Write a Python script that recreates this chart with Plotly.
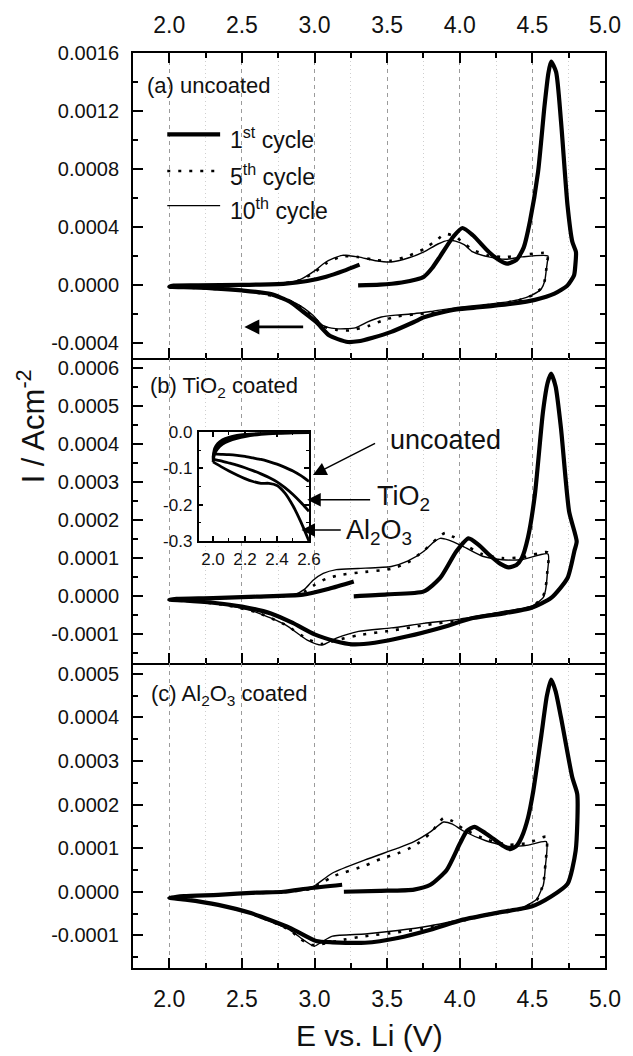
import plotly.graph_objects as go

FONT = "Liberation Sans, Arial, Helvetica, sans-serif"

# ---------------- shared potential axis (V vs Li) ----------------
x_major = [2.0, 2.5, 3.0, 3.5, 4.0, 4.5, 5.0]
x_major_text = ["2.0", "2.5", "3.0", "3.5", "4.0", "4.5", "5.0"]
x_minor = [2.25, 2.75, 3.25, 3.75, 4.25, 4.75]

# ---------------- (a) uncoated ----------------
a_y_ticks = [-0.0004, 0.0, 0.0004, 0.0008, 0.0012, 0.0016]
a_y_text = ["-0.0004", "0.0000", "0.0004", "0.0008", "0.0012", "0.0016"]
a_y_minor = [-0.0002, 0.0002, 0.0006, 0.0010, 0.0014]

a_c1_v = [3.30, 3.45, 3.60, 3.70, 3.753, 3.81, 3.865, 3.955, 4.018, 4.09, 4.20, 4.27, 4.326,
          4.39, 4.44, 4.483, 4.539, 4.584, 4.61, 4.629, 4.663, 4.697, 4.742, 4.775, 4.80,
          4.795, 4.787, 4.742, 4.652, 4.517, 4.36, 4.157, 3.977, 3.86, 3.753, 3.685, 3.528,
          3.40, 3.30, 3.23, 3.16, 3.10, 3.011, 2.92, 2.83, 2.70, 2.50, 2.30, 2.10, 2.0,
          2.03, 2.2, 2.5, 2.8, 2.95, 3.08, 3.2, 3.31]
a_c1_i = [0.0, 0.5e-5, 2.0e-5, 4.0e-5, 6.0e-5, 1.2e-4, 2.0e-4, 3.35e-4, 3.95e-4, 3.45e-4, 2.3e-4, 1.75e-4, 1.5e-4,
          1.75e-4, 2.6e-4, 4.4e-4, 7.8e-4, 12.4e-4, 14.6e-4, 15.4e-4, 14.7e-4, 11.3e-4, 5.5e-4, 3.0e-4, 2.3e-4,
          1.3e-4, 0.7e-4, 0.0, -0.57e-4, -1.0e-4, -1.26e-4, -1.49e-4, -1.65e-4, -1.9e-4, -2.2e-4, -2.52e-4, -3.2e-4,
          -3.6e-4, -3.85e-4, -3.9e-4, -3.7e-4, -3.44e-4, -2.52e-4, -1.8e-4, -1.12e-4, -0.6e-4, -0.35e-4, -0.2e-4, -0.12e-4, -0.1e-4,
          -0.02e-4, 0.0, 0.03e-4, 0.12e-4, 0.3e-4, 0.6e-4, 1.0e-4, 1.43e-4]

a_c5_v = [2.0, 2.2, 2.5, 2.75, 2.9, 3.0, 3.078, 3.19, 3.3, 3.42, 3.528, 3.65, 3.753, 3.85, 3.899,
          3.96, 4.03, 4.09, 4.2, 4.314, 4.427, 4.607, 4.603, 4.595, 4.585, 4.562, 4.494, 4.4, 4.2,
          4.0, 3.8, 3.685, 3.56, 3.46, 3.37, 3.24, 3.146, 3.056, 2.989, 2.876, 2.75, 2.6, 2.4, 2.2, 2.0]
a_c5_i = [-0.1e-4, 0.0, 0.03e-4, 0.1e-4, 0.35e-4, 0.9e-4, 1.5e-4, 2.0e-4, 1.95e-4, 1.75e-4, 1.7e-4, 2.05e-4, 2.5e-4, 3.2e-4, 3.55e-4,
          3.4e-4, 2.9e-4, 2.45e-4, 2.05e-4, 1.95e-4, 2.1e-4, 2.2e-4, 1.7e-4, 1.05e-4, 0.35e-4, -0.2e-4, -0.7e-4, -1.05e-4, -1.35e-4,
          -1.6e-4, -1.9e-4, -2.0e-4, -2.15e-4, -2.45e-4, -2.8e-4, -3.1e-4, -3.05e-4, -2.8e-4, -2.15e-4, -1.3e-4, -0.82e-4, -0.5e-4, -0.3e-4, -0.18e-4, -0.1e-4]

a_c10_v = [2.0, 2.2, 2.5, 2.75, 2.9, 3.0, 3.078, 3.19, 3.3, 3.42, 3.528, 3.65, 3.753, 3.85, 3.92,
           3.97, 4.03, 4.09, 4.2, 4.314, 4.427, 4.607, 4.603, 4.595, 4.585, 4.562, 4.494, 4.4, 4.2,
           4.0, 3.8, 3.685, 3.56, 3.46, 3.37, 3.28, 3.146, 3.056, 2.989, 2.876, 2.75, 2.6, 2.4, 2.2, 2.0]
a_c10_i = [-0.1e-4, 0.0, 0.03e-4, 0.1e-4, 0.4e-4, 1.0e-4, 1.61e-4, 2.07e-4, 1.96e-4, 1.7e-4, 1.61e-4, 1.9e-4, 2.3e-4, 2.85e-4, 3.1e-4,
           3.05e-4, 2.8e-4, 2.3e-4, 1.96e-4, 1.8e-4, 1.96e-4, 2.02e-4, 1.6e-4, 1.0e-4, 0.3e-4, -0.23e-4, -0.68e-4, -1.0e-4, -1.3e-4,
           -1.5e-4, -1.8e-4, -1.95e-4, -2.05e-4, -2.18e-4, -2.5e-4, -2.93e-4, -2.98e-4, -2.75e-4, -2.06e-4, -1.26e-4, -0.8e-4, -0.5e-4, -0.3e-4, -0.18e-4, -0.1e-4]

# ---------------- (b) TiO2 coated ----------------
b_y_ticks = [-0.0001, 0.0, 0.0001, 0.0002, 0.0003, 0.0004, 0.0005, 0.0006]
b_y_text = ["-0.0001", "0.0000", "0.0001", "0.0002", "0.0003", "0.0004", "0.0005", "0.0006"]
b_y_minor = [-0.00015, -0.00005, 0.00005, 0.00015, 0.00025, 0.00035, 0.00045, 0.00055]

b_c1_v = [3.27, 3.5, 3.753, 3.865, 3.977, 4.06, 4.13, 4.202, 4.28, 4.337, 4.39, 4.427, 4.47, 4.517,
          4.573, 4.605, 4.629, 4.66, 4.697, 4.753, 4.805, 4.79, 4.742, 4.629, 4.494, 4.314, 4.09,
          3.865, 3.64, 3.415, 3.258, 3.146, 3.0, 2.85, 2.7, 2.5, 2.3, 2.1, 2.0,
          2.05, 2.3, 2.6, 2.92, 3.1, 3.27]
b_c1_i = [0.0, 0.05e-4, 0.13e-4, 0.48e-4, 1.18e-4, 1.52e-4, 1.35e-4, 1.09e-4, 0.85e-4, 0.76e-4, 0.82e-4, 1.0e-4, 1.55e-4, 2.66e-4,
          4.84e-4, 5.6e-4, 5.84e-4, 5.5e-4, 4.4e-4, 2.22e-4, 1.44e-4, 1.2e-4, 0.48e-4, -0.044e-4, -0.3e-4, -0.44e-4, -0.57e-4,
          -0.83e-4, -1.05e-4, -1.22e-4, -1.26e-4, -1.18e-4, -1.0e-4, -0.7e-4, -0.45e-4, -0.27e-4, -0.17e-4, -0.11e-4, -0.09e-4,
          -0.07e-4, -0.05e-4, -0.01e-4, 0.044e-4, 0.2e-4, 0.39e-4]

b_c5_v = [2.0, 2.4, 2.75, 2.86, 2.93, 3.0, 3.08, 3.18, 3.3, 3.528, 3.64, 3.753, 3.84, 3.899, 3.96, 4.022,
          4.157, 4.292, 4.427, 4.607, 4.603, 4.59, 4.573, 4.5, 4.3, 4.0, 3.753, 3.528, 3.303, 3.15,
          3.05, 2.95, 2.8, 2.6, 2.4, 2.2, 2.0]
b_c5_i = [-0.09e-4, -0.04e-4, 0.0, 0.03e-4, 0.12e-4, 0.3e-4, 0.46e-4, 0.56e-4, 0.62e-4, 0.72e-4, 0.88e-4, 1.2e-4, 1.5e-4, 1.66e-4, 1.55e-4, 1.38e-4,
          1.1e-4, 1.0e-4, 1.02e-4, 1.15e-4, 0.65e-4, 0.2e-4, 0.0, -0.27e-4, -0.42e-4, -0.63e-4, -0.76e-4, -0.9e-4, -1.02e-4, -1.15e-4,
          -1.25e-4, -1.12e-4, -0.75e-4, -0.42e-4, -0.24e-4, -0.14e-4, -0.09e-4]

b_c10_v = [2.0, 2.4, 2.75, 2.86, 2.93, 2.99, 3.06, 3.15, 3.3, 3.528, 3.64, 3.753, 3.82, 3.865, 3.92,
           4.022, 4.157, 4.292, 4.427, 4.607, 4.603, 4.59, 4.573, 4.5, 4.3, 4.0, 3.753, 3.528, 3.303,
           3.15, 3.05, 2.95, 2.8, 2.6, 2.4, 2.2, 2.0]
b_c10_i = [-0.09e-4, -0.04e-4, 0.0, 0.04e-4, 0.18e-4, 0.42e-4, 0.6e-4, 0.7e-4, 0.73e-4, 0.78e-4, 0.92e-4, 1.18e-4, 1.42e-4, 1.52e-4, 1.48e-4,
           1.31e-4, 1.05e-4, 0.96e-4, 0.96e-4, 1.11e-4, 0.6e-4, 0.15e-4, -0.044e-4, -0.25e-4, -0.4e-4, -0.6e-4, -0.71e-4, -0.83e-4, -0.92e-4,
           -1.1e-4, -1.28e-4, -1.15e-4, -0.75e-4, -0.42e-4, -0.24e-4, -0.14e-4, -0.09e-4]

# ---------------- (c) Al2O3 coated ----------------
c_y_ticks = [-0.0001, 0.0, 0.0001, 0.0002, 0.0003, 0.0004, 0.0005]
c_y_text = ["-0.0001", "0.0000", "0.0001", "0.0002", "0.0003", "0.0004", "0.0005"]
c_y_minor = [-0.00015, -0.00005, 0.00005, 0.00015, 0.00025, 0.00035, 0.00045]

c_c1_v = [3.202, 3.45, 3.685, 3.798, 3.91, 4.0, 4.05, 4.101, 4.16, 4.225, 4.3, 4.348, 4.39, 4.427,
          4.47, 4.506, 4.562, 4.6, 4.629, 4.66, 4.697, 4.775, 4.809, 4.798, 4.742, 4.629, 4.494,
          4.247, 4.022, 3.798, 3.573, 3.348, 3.124, 3.011, 2.831, 2.561, 2.337, 2.112, 2.0,
          2.1, 2.337, 2.6, 2.786, 2.966, 3.19]
c_c1_i = [0.0, 0.02e-4, 0.05e-4, 0.16e-4, 0.5e-4, 1.1e-4, 1.4e-4, 1.49e-4, 1.38e-4, 1.23e-4, 1.05e-4, 0.98e-4, 1.05e-4, 1.26e-4,
          1.7e-4, 2.31e-4, 3.6e-4, 4.5e-4, 4.87e-4, 4.6e-4, 4.0e-4, 2.62e-4, 2.24e-4, 0.94e-4, 0.18e-4, -0.11e-4, -0.34e-4,
          -0.49e-4, -0.64e-4, -0.87e-4, -1.06e-4, -1.17e-4, -1.16e-4, -1.13e-4, -0.83e-4, -0.49e-4, -0.3e-4, -0.18e-4, -0.14e-4,
          -0.1e-4, -0.07e-4, -0.02e-4, 0.0, 0.08e-4, 0.16e-4]

c_c5_v = [2.0, 2.337, 2.786, 2.966, 3.05, 3.124, 3.348, 3.46, 3.573, 3.685, 3.8, 3.888, 3.95, 4.022,
          4.18, 4.337, 4.472, 4.596, 4.59, 4.575, 4.562, 4.528, 4.4, 4.2, 4.022, 3.798, 3.573, 3.348,
          3.2, 3.05, 2.98, 2.9, 2.831, 2.561, 2.337, 2.112, 2.0]
c_c5_i = [-0.14e-4, -0.07e-4, 0.0, 0.06e-4, 0.2e-4, 0.35e-4, 0.6e-4, 0.76e-4, 0.88e-4, 1.05e-4, 1.35e-4, 1.69e-4, 1.62e-4, 1.45e-4,
          1.2e-4, 1.08e-4, 1.12e-4, 1.26e-4, 0.65e-4, 0.18e-4, 0.05e-4, -0.2e-4, -0.42e-4, -0.53e-4, -0.66e-4, -0.82e-4, -0.93e-4, -1.02e-4,
          -1.1e-4, -1.2e-4, -1.22e-4, -1.08e-4, -0.88e-4, -0.5e-4, -0.3e-4, -0.18e-4, -0.14e-4]

c_c10_v = [2.0, 2.337, 2.786, 2.966, 3.011, 3.124, 3.348, 3.573, 3.685, 3.8, 3.888, 3.95, 4.022, 4.18,
           4.337, 4.472, 4.596, 4.59, 4.575, 4.562, 4.528, 4.4, 4.2, 4.022, 3.798, 3.573, 3.348, 3.124,
           3.05, 2.999, 2.93, 2.831, 2.561, 2.337, 2.112, 2.0]
c_c10_i = [-0.14e-4, -0.07e-4, 0.0, 0.08e-4, 0.16e-4, 0.43e-4, 0.73e-4, 1.0e-4, 1.15e-4, 1.38e-4, 1.6e-4, 1.55e-4, 1.4e-4, 1.17e-4,
           1.04e-4, 1.07e-4, 1.15e-4, 0.6e-4, 0.15e-4, 0.05e-4, -0.18e-4, -0.4e-4, -0.5e-4, -0.63e-4, -0.78e-4, -0.89e-4, -0.97e-4, -1.02e-4,
           -1.15e-4, -1.25e-4, -1.12e-4, -0.88e-4, -0.5e-4, -0.3e-4, -0.18e-4, -0.14e-4]

# ---------------- inset: low-potential end of the first cathodic scan ----------------
inset_x_ticks = [2.0, 2.2, 2.4, 2.6]
inset_x_text = ["2.0", "2.2", "2.4", "2.6"]
inset_y_ticks = [-0.3, -0.2, -0.1, 0.0]
inset_y_text = ["-0.3", "-0.2", "-0.1", "0.0"]

inset_up_v = [2.0, 2.01, 2.03, 2.06, 2.1, 2.15, 2.2, 2.3, 2.4, 2.5, 2.6]
inset_up_1 = [-0.082, -0.06, -0.045, -0.033, -0.024, -0.017, -0.012, -0.006, -0.003, -0.002, -0.001]
inset_up_2 = [-0.076, -0.052, -0.038, -0.027, -0.019, -0.013, -0.009, -0.004, -0.002, -0.001, -0.001]
inset_up_3 = [-0.07, -0.045, -0.031, -0.021, -0.014, -0.009, -0.006, -0.003, -0.001, 0.0, 0.0]

inset_dn_v = [2.0, 2.05, 2.1, 2.15, 2.2, 2.25, 2.3, 2.35, 2.4, 2.45, 2.5, 2.55, 2.6]
inset_uncoated = [-0.060, -0.061, -0.062, -0.064, -0.067, -0.071, -0.075, -0.081, -0.088, -0.097, -0.107, -0.12, -0.136]
inset_tio2 = [-0.074, -0.079, -0.085, -0.091, -0.098, -0.106, -0.115, -0.125, -0.137, -0.153, -0.172, -0.194, -0.218]
inset_al2o3 = [-0.082, -0.095, -0.107, -0.118, -0.128, -0.136, -0.141, -0.141, -0.147, -0.168, -0.203, -0.248, -0.30]

fig = go.Figure()

THICK = dict(color="black", width=4.2)
DOTTED = dict(color="black", width=2.6, dash="3px,8px")
THIN = dict(color="black", width=1.4)


def add_cycles(v1, i1, v5, i5, v10, i10, xa, ya):
    common = dict(mode="lines", showlegend=False, xaxis=xa, yaxis=ya, hoverinfo="skip")
    fig.add_trace(go.Scatter(x=v10, y=i10, line=dict(**THIN, shape="spline", smoothing=0.6), **common))
    fig.add_trace(go.Scatter(x=v5, y=i5, line=dict(**DOTTED, shape="spline", smoothing=0.6), **common))
    fig.add_trace(go.Scatter(x=v1, y=i1, line=dict(**THICK, shape="spline", smoothing=0.6), **common))


add_cycles(a_c1_v, a_c1_i, a_c5_v, a_c5_i, a_c10_v, a_c10_i, "x", "y")
add_cycles(b_c1_v, b_c1_i, b_c5_v, b_c5_i, b_c10_v, b_c10_i, "x2", "y2")
add_cycles(c_c1_v, c_c1_i, c_c5_v, c_c5_i, c_c10_v, c_c10_i, "x3", "y3")

inset_line = dict(color="black", width=2.8, shape="spline", smoothing=0.6)
for ys in (inset_up_1, inset_up_2, inset_up_3):
    fig.add_trace(go.Scatter(x=inset_up_v, y=ys, mode="lines", line=inset_line,
                             xaxis="x4", yaxis="y4", showlegend=False, hoverinfo="skip"))
for ys in (inset_uncoated, inset_tio2, inset_al2o3):
    fig.add_trace(go.Scatter(x=inset_dn_v, y=ys, mode="lines", line=inset_line,
                             xaxis="x4", yaxis="y4", showlegend=False, hoverinfo="skip"))

GRID_MAJOR = "#9b9b9b"
GRID_MINOR = "#cfcfcf"


def x_axis(anchor, side, labels, mirror):
    return dict(
        domain=[0, 1], anchor=anchor, side=side, range=[1.75, 5.0],
        tickmode="array", tickvals=x_major, ticktext=x_major_text,
        showticklabels=labels, ticks="inside", ticklen=10, tickwidth=2, tickcolor="black",
        mirror=mirror, showline=True, linewidth=2, linecolor="black",
        showgrid=True, gridcolor=GRID_MAJOR, gridwidth=1, griddash="4px,4px",
        minor=dict(tickvals=x_minor, ticks="inside", ticklen=5, tickwidth=1.6, tickcolor="black",
                   showgrid=True, gridcolor=GRID_MINOR, gridwidth=1, griddash="1px,3px"),
        zeroline=False, tickfont=dict(size=23, color="#111", family=FONT),
        ticklabelstandoff=9,
    )


def y_axis(anchor, domain, rng, vals, text, minor):
    return dict(
        domain=domain, anchor=anchor, range=rng,
        tickmode="array", tickvals=vals, ticktext=text,
        ticks="inside", ticklen=10, tickwidth=2, tickcolor="black",
        mirror="allticks", showline=True, linewidth=2, linecolor="black",
        showgrid=False, zeroline=False,
        minor=dict(tickvals=minor, ticks="inside", ticklen=5, tickwidth=1.6, tickcolor="black", showgrid=False),
        tickfont=dict(size=20, color="#111", family=FONT),
        ticklabelstandoff=8,
    )


fig.update_layout(
    width=633, height=1056,
    margin=dict(l=133, r=18, t=51, b=88),
    paper_bgcolor="white", plot_bgcolor="white",
    font=dict(family=FONT, color="#111"),
    # panel (a) carries ticks top and bottom; (b) and (c) share the frame line above them
    xaxis=x_axis("y", "top", True, "allticks"),
    yaxis=y_axis("x", [2 / 3, 1], [-0.0005, 0.0016], a_y_ticks, a_y_text, a_y_minor),
    xaxis2=x_axis("y2", "bottom", False, False),
    yaxis2=y_axis("x2", [1 / 3, 2 / 3], [-0.000175, 0.000625], b_y_ticks, b_y_text, b_y_minor),
    xaxis3=x_axis("y3", "bottom", True, False),
    yaxis3=y_axis("x3", [0, 1 / 3], [-0.000175, 0.000525], c_y_ticks, c_y_text, c_y_minor),
    xaxis4=dict(
        domain=[0.139, 0.3728], anchor="y4", range=[1.91, 2.6],
        tickmode="array", tickvals=inset_x_ticks, ticktext=inset_x_text,
        ticks="inside", ticklen=5, tickwidth=1.5, tickcolor="black",
        minor=dict(tickvals=[2.1, 2.3, 2.5], ticks="inside", ticklen=3, tickwidth=1.2, tickcolor="black"),
        mirror="allticks", showline=True, linewidth=1.6, linecolor="black",
        showgrid=False, zeroline=False, tickfont=dict(size=17, family=FONT, color="#111"),
        ticklabelstandoff=2,
    ),
    yaxis4=dict(
        domain=[0.4667, 0.5856], anchor="x4", range=[-0.3, 0.0],
        tickmode="array", tickvals=inset_y_ticks, ticktext=inset_y_text,
        ticks="inside", ticklen=5, tickwidth=1.5, tickcolor="black",
        minor=dict(tickvals=[-0.25, -0.15, -0.05], ticks="inside", ticklen=3, tickwidth=1.2, tickcolor="black"),
        mirror="allticks", showline=True, linewidth=1.6, linecolor="black",
        showgrid=False, zeroline=False, tickfont=dict(size=17, family=FONT, color="#111"),
        ticklabelstandoff=1,
    ),
)

# white backing for the inset so the main grid does not show through
fig.add_shape(type="rect", xref="x4 domain", yref="y4 domain", x0=0, x1=1, y0=0, y1=1,
              fillcolor="white", line=dict(width=0), layer="below")

# legend drawn inside panel (a)
legend_rows = [("1<sup>st</sup> cycle", THICK, 0.733),
               ("5<sup>th</sup> cycle", DOTTED, 0.613),
               ("10<sup>th</sup> cycle", THIN, 0.4995)]
for label, style, yd in legend_rows:
    fig.add_shape(type="line", xref="x domain", yref="y domain", x0=0.0726, x1=0.1846, y0=yd, y1=yd,
                  line=dict(color="black", width=style["width"], dash=style.get("dash", "solid")))
    fig.add_annotation(xref="x domain", yref="y domain", x=0.201, y=yd - 0.012, text=label,
                       showarrow=False, xanchor="left", yanchor="middle", font=dict(size=23))

# panel titles
fig.add_annotation(xref="x domain", yref="y domain", x=0.025, y=0.895, text="(a) uncoated",
                   showarrow=False, xanchor="left", yanchor="middle", font=dict(size=22))
fig.add_annotation(xref="x2 domain", yref="y2 domain", x=0.031, y=0.905, text="(b) TiO<sub>2</sub> coated",
                   showarrow=False, xanchor="left", yanchor="middle", font=dict(size=22))
fig.add_annotation(xref="x3 domain", yref="y3 domain", x=0.033, y=0.895, text="(c) Al<sub>2</sub>O<sub>3</sub> coated",
                   showarrow=False, xanchor="left", yanchor="middle", font=dict(size=22))

# scan-direction arrow in panel (a)
fig.add_annotation(xref="x", yref="y", axref="x", ayref="y", x=2.517, y=-2.86e-4, ax=2.932, ay=-2.86e-4,
                   text="", showarrow=True, arrowhead=2, arrowsize=1.15, arrowwidth=2.6, arrowcolor="black", standoff=0)

# pointers from the inset curves to their labels
pointers = [(2.989, 3.18e-4, 3.427, 4.03e-4), (2.95, 2.53e-4, 3.393, 2.53e-4), (2.91, 1.74e-4, 3.191, 1.74e-4)]
for hx, hy, tx, ty in pointers:
    fig.add_annotation(xref="x2", yref="y2", axref="x2", ayref="y2", x=hx, y=hy, ax=tx, ay=ty,
                       text="", showarrow=True, arrowhead=2, arrowsize=1.8, arrowwidth=1.5, arrowcolor="black", standoff=0)
pointer_labels = [("uncoated", 3.503, 4.1e-4), ("TiO<sub>2</sub>", 3.416, 2.58e-4), ("Al<sub>2</sub>O<sub>3</sub>", 3.2, 1.68e-4)]
for txt, lx, ly in pointer_labels:
    fig.add_annotation(xref="x2", yref="y2", x=lx, y=ly, text=txt, showarrow=False,
                       xanchor="left", yanchor="middle", font=dict(size=27))

# axis titles
fig.add_annotation(xref="paper", yref="paper", x=-0.216, y=0.592, text="I / Acm<sup>-2</sup>",
                   textangle=-90, showarrow=False, xanchor="center", yanchor="middle", font=dict(size=31))
fig.add_annotation(xref="paper", yref="paper", x=0.5, y=-0.0735, text="E vs. Li (V)",
                   showarrow=False, xanchor="center", yanchor="middle", font=dict(size=30))

fig.write_html("out.html")
